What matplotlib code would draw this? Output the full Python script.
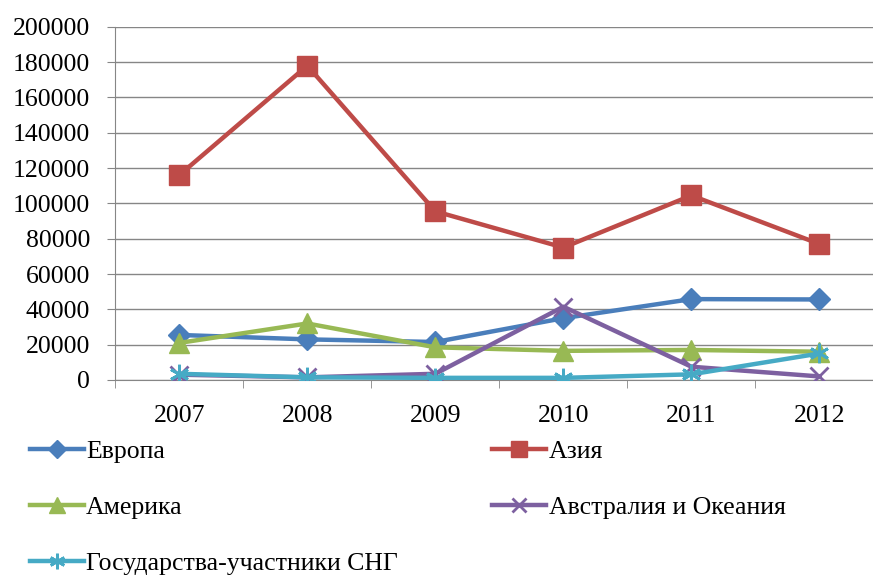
import matplotlib.pyplot as plt
import numpy as np

plt.rcParams['font.family'] = ['Liberation Serif', 'DejaVu Serif']

years = ['2007', '2008', '2009', '2010', '2011', '2012']
europe = [25500, 23000, 21500, 35000, 45800, 45600]
asia = [116000, 178000, 95500, 75000, 104500, 77000]
america = [21000, 32000, 18500, 16500, 17000, 16000]
australia = [3000, 1500, 3500, 41500, 7500, 2000]
cis = [3500, 1500, 1200, 1200, 3200, 15000]

fig = plt.figure(figsize=(8.73, 5.78), dpi=100)
ax = fig.add_axes([0.132, 0.3426, 0.88, 0.611])

x = np.arange(len(years))
lw = 3.2
h_eu, = ax.plot(x, europe, color='#4A7EBB', lw=lw, marker='D', ms=11, label='Европа', zorder=3)
h_as, = ax.plot(x, asia, color='#BE4B48', lw=lw, marker='s', ms=14, label='Азия', zorder=3)
h_am, = ax.plot(x, america, color='#98B954', lw=lw, marker='^', ms=14, label='Америка', zorder=3)
h_au, = ax.plot(x, australia, color='#7D60A0', lw=lw, marker='x', ms=13, mew=2, label='Австралия и Океания', zorder=3)
h_ci, = ax.plot(x, cis, color='#46AAC5', lw=lw, marker=(6, 2, 0), ms=14, mew=2, label='Государства-участники СНГ', zorder=3)

fs = 18.5
ax.set_xlim(-0.5, len(years) - 0.5)
ax.set_ylim(0, 200000)
ax.set_yticks(np.arange(0, 200001, 20000))
ax.set_xticks(x)
ax.set_xticklabels(years)
ax.set_xticks(np.arange(-0.5, len(years)), minor=True)
ax.tick_params(axis='x', which='major', length=0, pad=18, labelsize=fs)
ax.tick_params(axis='x', which='minor', length=6, color='#868686')
ax.tick_params(axis='y', length=6, color='#868686', labelsize=fs, pad=12)
ax.grid(axis='y', color='#868686', lw=1)
ax.set_axisbelow(True)
for s in ['top', 'right']:
    ax.spines[s].set_visible(False)
for s in ['left', 'bottom']:
    ax.spines[s].set_color('#868686')

leg_kw = dict(loc='upper left', frameon=False, fontsize=fs, handlelength=2.1,
              handletextpad=0.1, labelspacing=1.28, borderaxespad=0, borderpad=0,
              markerscale=0.8)
leg1 = fig.legend(handles=[h_eu, h_am, h_ci], bbox_to_anchor=(0.034, 0.238), **leg_kw)
leg2 = fig.legend(handles=[h_as, h_au], bbox_to_anchor=(0.564, 0.238), **leg_kw)

fig.savefig('out.png', dpi=100)
